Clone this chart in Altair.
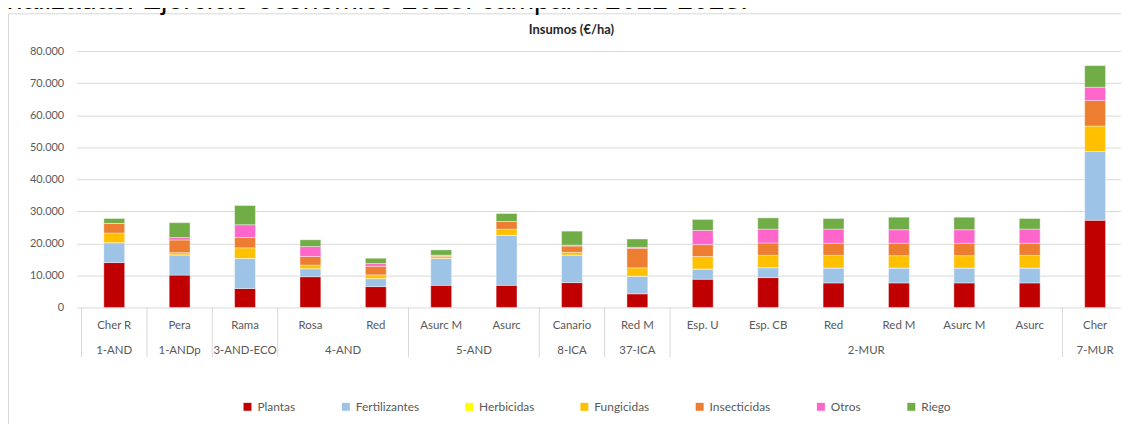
import altair as alt
import pandas as pd

# ---- data ----
categories = ["Cher R", "Pera", "Rama", "Rosa", "Red", "Asurc M", "Asurc", "Canario",
              "Red M", "Esp. U", "Esp. CB", "Red", "Red M", "Asurc M", "Asurc", "Cher"]
groups = ["1-AND", "1-ANDp", "3-AND-ECO", "4-AND", "4-AND", "5-AND", "5-AND", "8-ICA",
          "37-ICA", "2-MUR", "2-MUR", "2-MUR", "2-MUR", "2-MUR", "2-MUR", "7-MUR"]
series = ["Plantas", "Fertilizantes", "Herbicidas", "Fungicidas", "Insecticidas", "Otros", "Riego"]
colors = ["#C00000", "#9DC3E6", "#FFFF00", "#FFC000", "#ED7D31", "#FF66CC", "#70AD47"]

plantas       = [14000, 10100, 5900, 9600, 6500, 6900, 6900, 7750, 4250, 8800, 9300, 7650, 7650, 7650, 7650, 27200]
fertilizantes = [6200, 6300, 9400, 2500, 2500, 8400, 15600, 8600, 5500, 3200, 3100, 4650, 4650, 4650, 4650, 21450]
herbicidas    = [0, 0, 0, 0, 0, 0, 0, 0, 0, 0, 0, 0, 0, 0, 0, 0]
fungicidas    = [3000, 700, 3300, 1100, 1150, 600, 1900, 850, 2600, 3900, 3850, 3950, 3850, 3850, 3950, 7950]
insecticidas  = [3000, 3950, 3200, 2700, 2700, 400, 2400, 1950, 6100, 3700, 3850, 3750, 3850, 3850, 3750, 7950]
otros         = [0, 750, 4000, 3100, 850, 0, 0, 300, 300, 4450, 4350, 4450, 4250, 4250, 4450, 4150]
riego         = [1550, 4650, 6000, 2100, 1650, 1650, 2500, 4350, 2600, 3400, 3500, 3300, 3900, 3900, 3300, 6750]

chart_title = "Insumos (€/ha)"
doc_text = "analizadas. Ejercicio económico 2023: campaña 2022-2023."

values = [plantas, fertilizantes, herbicidas, fungicidas, insecticidas, otros, riego]

rows = []
for s_idx, (s, vals) in enumerate(zip(series, values)):
    for i, v in enumerate(vals):
        rows.append({"pos": i + 0.5, "cat": categories[i], "grp": groups[i],
                     "serie": s, "ord": s_idx, "value": v})
df = pd.DataFrame(rows)

cat_df = pd.DataFrame({"pos": [i + 0.5 for i in range(len(categories))], "cat": categories, "grp": groups})
grp_df = cat_df.groupby("grp", sort=False).agg(pos=("pos", "mean"), start=("pos", "min")).reset_index()
grp_df["start"] = grp_df["start"] - 0.5

FONT = "Lato"
xscale = alt.Scale(domain=[0, 15.82], nice=False, zero=False)

frame = alt.Chart(pd.DataFrame({"a": [0]})).mark_rect(
    fillOpacity=0, stroke="#d9d9d9", strokeWidth=1
).encode(x=alt.value(-68.5), x2=alt.value(1200), y=alt.value(-37.5), y2=alt.value(600))

doc = alt.Chart(pd.DataFrame({"t": [doc_text]})).mark_text(
    align="left", baseline="alphabetic", font="Liberation Sans", fontSize=28.5, color="#000000"
).encode(x=alt.value(-86), y=alt.value(-42), text="t:N")

title = alt.Chart(pd.DataFrame({"t": [chart_title]})).mark_text(
    align="center", baseline="middle", font=FONT, fontSize=13, fontWeight="bold", color="#262626"
).encode(x=alt.value(498), y=alt.value(-21), text="t:N")

bars = alt.Chart(df).mark_bar(orient="vertical", size=21, stroke="#ffffff", strokeWidth=0.4).encode(
    x=alt.X("pos:Q", scale=xscale, axis=None),
    y=alt.Y("value:Q", aggregate="sum", stack="zero",
            scale=alt.Scale(domain=[0, 80000], nice=False),
            axis=alt.Axis(values=list(range(0, 80001, 10000)), title=None, domain=False, ticks=False,
                          labelFont=FONT, labelFontSize=11, labelColor="#595959", labelPadding=13,
                          gridColor="#d9d9d9", gridWidth=1,
                          labelExpr="datum.value == 0 ? '0' : format(datum.value/1000, 'd') + '.000'")),
    color=alt.Color("serie:N", scale=alt.Scale(domain=series, range=colors),
                    legend=alt.Legend(title=None, orient="none", legendX=166, legendY=352,
                                      direction="horizontal", columns=7, symbolType="square",
                                      symbolSize=64, symbolStrokeWidth=0, labelFont=FONT,
                                      labelFontSize=12, labelColor="#595959", labelOffset=4,
                                      columnPadding=44)),
    order=alt.Order("ord:Q", sort="ascending"),
)

seps = alt.Chart(grp_df).mark_rule(color="#d9d9d9", strokeWidth=1).encode(
    x=alt.X("start:Q", scale=xscale, axis=None), y=alt.value(258), y2=alt.value(308)
)

lab1 = alt.Chart(cat_df).mark_text(font=FONT, fontSize=11.5, color="#595959", baseline="middle").encode(
    x=alt.X("pos:Q", scale=xscale, axis=None), y=alt.value(277), text="cat:N"
)
lab2 = alt.Chart(grp_df).mark_text(font=FONT, fontSize=11.5, color="#595959", baseline="middle").encode(
    x=alt.X("pos:Q", scale=xscale, axis=None), y=alt.value(302), text="grp:N"
)

chart = alt.layer(frame, doc, title, bars, seps, lab1, lab2).properties(
    width=1051, height=258,
    autosize=alt.AutoSizeParams(type="none"),
    padding={"left": 69, "top": 42, "right": 0, "bottom": 116},
    background="#ffffff",
).configure_view(stroke=None)

chart.save("out.html", embed_options={"renderer": "svg", "actions": False})
